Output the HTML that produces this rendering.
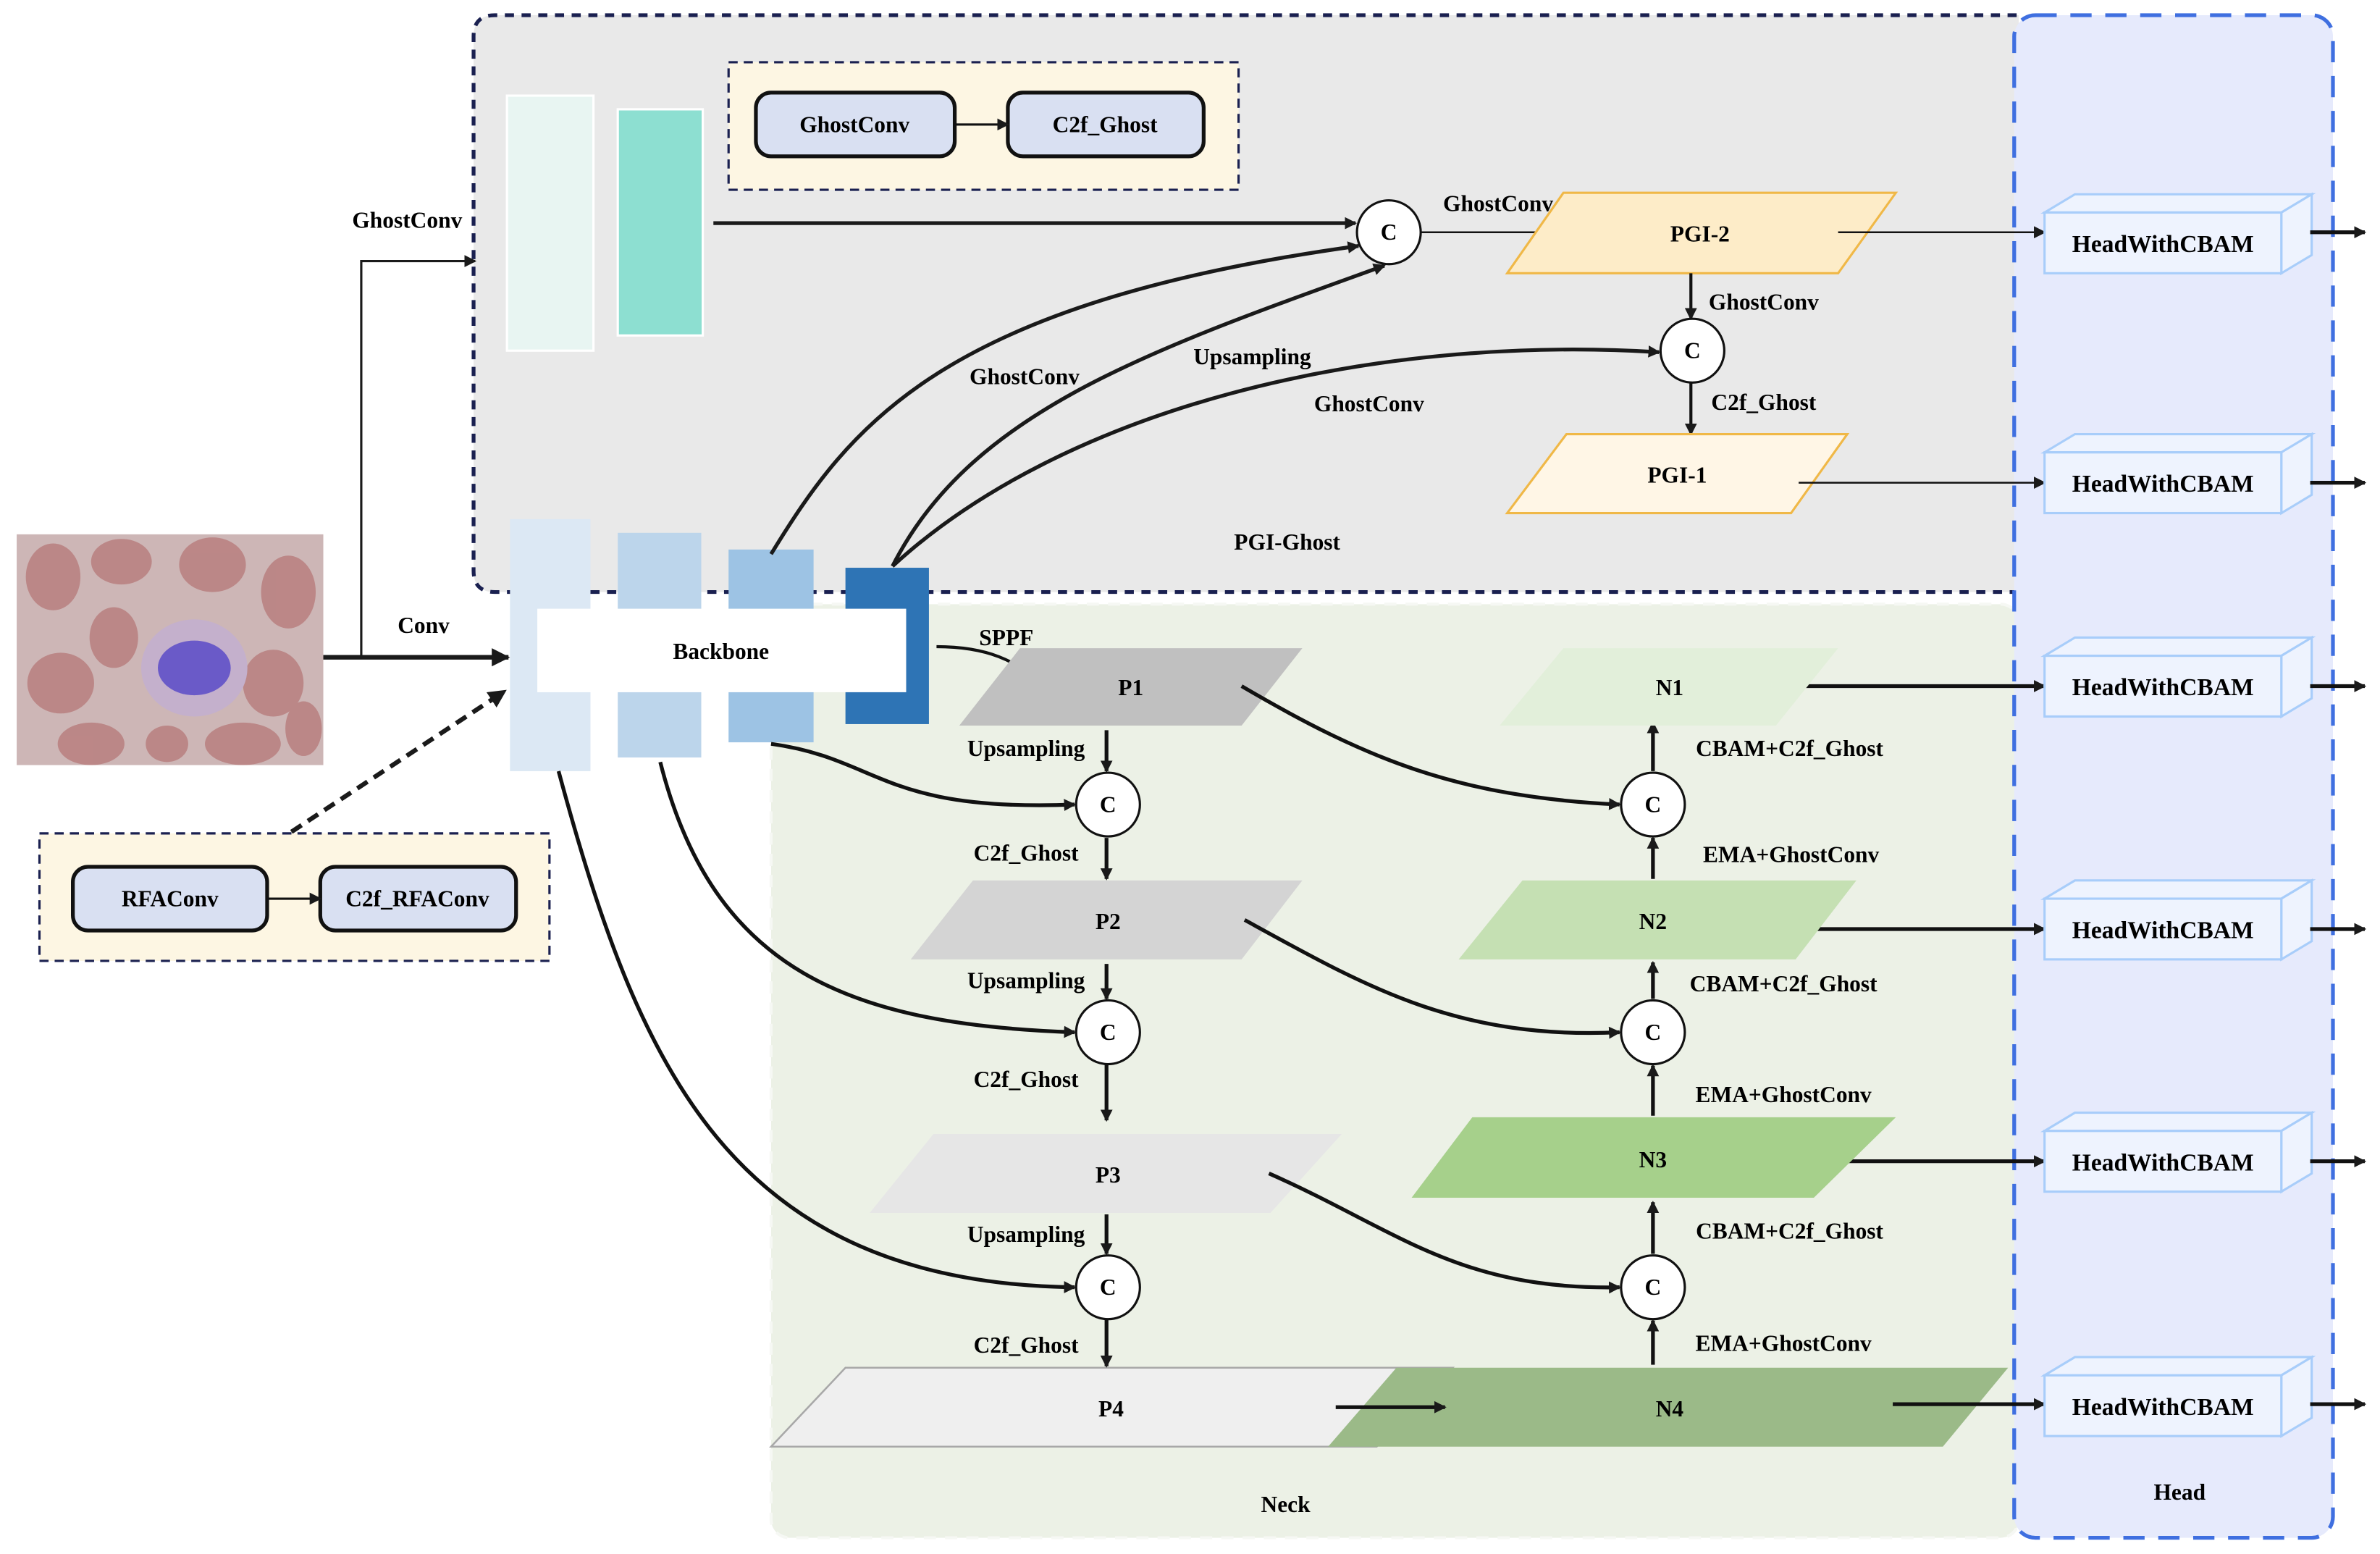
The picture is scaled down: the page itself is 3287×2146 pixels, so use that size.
<!DOCTYPE html>
<html><head><meta charset="utf-8"><style>html,body{margin:0;padding:0;background:#fff}svg{display:block}</style></head>
<body>
<svg width="3287" height="2146" viewBox="0 0 1568 1023.7" preserveAspectRatio="none" xmlns="http://www.w3.org/2000/svg" font-family="Liberation Serif, serif" font-weight="bold" font-size="15">
<defs>
<marker id="a" markerWidth="8" markerHeight="8" refX="7" refY="4" orient="auto" markerUnits="userSpaceOnUse"><path d="M0,0 L8,4 L0,8 z" fill="#1a1a1a"/></marker>
<marker id="b" markerWidth="12" markerHeight="12" refX="11" refY="6" orient="auto" markerUnits="userSpaceOnUse"><path d="M0,0 L12,6 L0,12 z" fill="#1a1a1a"/></marker>
</defs>
<rect x="508" y="398" width="822" height="615" rx="12" fill="#ecf1e6" stroke="#f6f8f4" stroke-width="2" stroke-dasharray="8 6"/>
<path d="M1330,390 L326,390 Q312,390 312,376 L312,24 Q312,10 326,10 L1330,10" fill="#e9e9e9" stroke="#1a2050" stroke-width="2.5" stroke-dasharray="6 5"/>
<rect x="1327" y="10" width="210" height="1003" rx="14" fill="#e6eafc" stroke="#3f6fe0" stroke-width="2.5" stroke-dasharray="14 9"/>
<rect x="11" y="352" width="202" height="152" fill="#cdb6b6"/>
<g fill="#b97f7f" opacity="0.85">
<ellipse cx="35" cy="380" rx="18" ry="22"/><ellipse cx="80" cy="370" rx="20" ry="15"/><ellipse cx="140" cy="372" rx="22" ry="18"/><ellipse cx="190" cy="390" rx="18" ry="24"/>
<ellipse cx="40" cy="450" rx="22" ry="20"/><ellipse cx="75" cy="420" rx="16" ry="20"/><ellipse cx="180" cy="450" rx="20" ry="22"/><ellipse cx="60" cy="490" rx="22" ry="14"/>
<ellipse cx="160" cy="490" rx="25" ry="14"/><ellipse cx="110" cy="490" rx="14" ry="12"/><ellipse cx="200" cy="480" rx="12" ry="18"/>
</g>
<ellipse cx="128" cy="440" rx="35" ry="32" fill="#c4b0cc"/>
<ellipse cx="128" cy="440" rx="24" ry="18" fill="#6a5ac8"/>
<line x1="213" y1="433" x2="335" y2="433" stroke="#1a1a1a" stroke-width="3" marker-end="url(#b)"/>
<polyline points="238,433 238,172 313,172" fill="none" stroke="#1a1a1a" stroke-width="1.5" marker-end="url(#a)"/>
<text x="232" y="150">GhostConv</text>
<text x="262" y="417">Conv</text>
<line x1="192" y1="548" x2="333" y2="455" stroke="#1a1a1a" stroke-width="3" stroke-dasharray="8 5" marker-end="url(#b)"/>
<rect x="26" y="549" width="336" height="84" fill="#fdf6e3" stroke="#1a2050" stroke-width="1.5" stroke-dasharray="6 4"/>
<rect x="48" y="571" width="128" height="42" rx="10" fill="#d9e0f2" stroke="#111" stroke-width="2.5"/>
<rect x="211" y="571" width="129" height="42" rx="10" fill="#d9e0f2" stroke="#111" stroke-width="2.5"/>
<line x1="176" y1="592" x2="211" y2="592" stroke="#111" stroke-width="1.5" marker-end="url(#a)"/>
<text x="112" y="597" text-anchor="middle">RFAConv</text>
<text x="275" y="597" text-anchor="middle">C2f_RFAConv</text>
<rect x="480" y="41" width="336" height="84" fill="#fdf6e3" stroke="#1a2050" stroke-width="1.5" stroke-dasharray="6 4"/>
<rect x="498" y="61" width="131" height="42" rx="10" fill="#d9e0f2" stroke="#111" stroke-width="2.5"/>
<rect x="664" y="61" width="129" height="42" rx="10" fill="#d9e0f2" stroke="#111" stroke-width="2.5"/>
<line x1="629" y1="82" x2="664" y2="82" stroke="#111" stroke-width="1.5" marker-end="url(#a)"/>
<text x="563" y="87" text-anchor="middle">GhostConv</text>
<text x="728" y="87" text-anchor="middle">C2f_Ghost</text>
<rect x="334" y="63" width="57" height="168" fill="#e8f5f2" stroke="#fff" stroke-width="1.5"/>
<rect x="407" y="72" width="56" height="149" fill="#8ddfd1" stroke="#fff" stroke-width="1.5"/>
<rect x="336" y="342" width="53" height="166" fill="#dce8f4"/>
<rect x="407" y="351" width="55" height="148" fill="#bcd5eb"/>
<rect x="480" y="362" width="56" height="127" fill="#9dc3e4"/>
<rect x="557" y="374" width="55" height="103" fill="#2e74b5"/>
<rect x="354" y="401" width="243" height="55" fill="#fff"/>
<text x="475" y="434" text-anchor="middle">Backbone</text>
<g fill="none" stroke="#1a1a1a" stroke-width="2.5">
<line x1="470" y1="147" x2="893" y2="147" marker-end="url(#a)"/>
<path d="M508,365 C560,280 620,200 895,162" marker-end="url(#a)"/>
<path d="M588,373 C640,270 760,230 912,175" marker-end="url(#a)"/>
<path d="M588,373 C700,270 900,220 1093,232" marker-end="url(#a)"/>
</g>
<circle cx="915" cy="153" r="21" fill="#fff" stroke="#111" stroke-width="1.5"/><text x="915" y="158" text-anchor="middle">C</text>
<text x="675" y="253" text-anchor="middle">GhostConv</text>
<text x="825" y="240" text-anchor="middle">Upsampling</text>
<text x="902" y="271" text-anchor="middle">GhostConv</text>
<line x1="936" y1="153" x2="1030" y2="153" stroke="#111" stroke-width="1.2" marker-end="url(#a)"/>
<text x="987" y="139" text-anchor="middle">GhostConv</text>
<polygon points="1030,127 1249,127 1211,180 993,180" fill="#fdecc8" stroke="#f0b847" stroke-width="1.5"/>
<text x="1120" y="159" text-anchor="middle">PGI-2</text>
<line x1="1211" y1="153" x2="1347" y2="153" stroke="#111" stroke-width="1.2" marker-end="url(#a)"/>
<line x1="1114" y1="180" x2="1114" y2="210" stroke="#111" stroke-width="2" marker-end="url(#a)"/>
<text x="1162" y="204" text-anchor="middle">GhostConv</text>
<circle cx="1115" cy="231" r="21" fill="#fff" stroke="#111" stroke-width="1.5"/><text x="1115" y="236" text-anchor="middle">C</text>
<line x1="1114" y1="252" x2="1114" y2="286" stroke="#111" stroke-width="2" marker-end="url(#a)"/>
<text x="1162" y="270" text-anchor="middle">C2f_Ghost</text>
<polygon points="1032,286 1217,286 1180,338 993,338" fill="#fff6e6" stroke="#f0b847" stroke-width="1.5"/>
<text x="1105" y="318" text-anchor="middle">PGI-1</text>
<line x1="1185" y1="318" x2="1347" y2="318" stroke="#111" stroke-width="1.2" marker-end="url(#a)"/>
<text x="848" y="362" text-anchor="middle">PGI-Ghost</text>
<text x="663" y="425" text-anchor="middle">SPPF</text>
<path d="M617,426 C650,426 670,435 688,452" fill="none" stroke="#111" stroke-width="2" marker-end="url(#a)"/>
<polygon points="672,427 858,427 818,478 632,478" fill="#c0c0c0"/>
<text x="745" y="458" text-anchor="middle">P1</text>
<polygon points="641,580 858,580 818,632 600,632" fill="#d4d4d4"/>
<text x="730" y="612" text-anchor="middle">P2</text>
<polygon points="615,747 884,747 837,799 573,799" fill="#e6e6e6"/>
<text x="730" y="779" text-anchor="middle">P3</text>
<polygon points="557,901 957,901 907,953 508,953" fill="#efefef" stroke="#a8a8a8" stroke-width="1.2"/>
<text x="732" y="933" text-anchor="middle">P4</text>
<polygon points="920,901 1323,901 1280,953 875,953" fill="#9bba88"/>
<text x="1100" y="933" text-anchor="middle">N4</text>
<g fill="none" stroke="#111" stroke-width="2.5">
<line x1="729" y1="481" x2="729" y2="508" marker-end="url(#a)"/>
<line x1="729" y1="552" x2="729" y2="579" marker-end="url(#a)"/>
<line x1="729" y1="635" x2="729" y2="658" marker-end="url(#a)"/>
<line x1="729" y1="701" x2="729" y2="738" marker-end="url(#a)"/>
<line x1="729" y1="800" x2="729" y2="826" marker-end="url(#a)"/>
<line x1="729" y1="869" x2="729" y2="900" marker-end="url(#a)"/>
<path d="M508,490 C580,500 580,535 708,530" marker-end="url(#a)"/>
<path d="M435,502 C470,640 560,675 708,680" marker-end="url(#a)"/>
<path d="M368,508 C420,700 480,845 708,848" marker-end="url(#a)"/>
<line x1="880" y1="927" x2="952" y2="927" marker-end="url(#a)"/>
<path d="M818,452 C900,500 960,525 1067,530" marker-end="url(#a)"/>
<path d="M820,606 C900,650 960,685 1067,680" marker-end="url(#a)"/>
<path d="M836,773 C920,810 960,850 1067,848" marker-end="url(#a)"/>
<line x1="1089" y1="508" x2="1089" y2="476" marker-end="url(#a)"/>
<line x1="1089" y1="579" x2="1089" y2="552" marker-end="url(#a)"/>
<line x1="1089" y1="658" x2="1089" y2="634" marker-end="url(#a)"/>
<line x1="1089" y1="735" x2="1089" y2="702" marker-end="url(#a)"/>
<line x1="1089" y1="826" x2="1089" y2="792" marker-end="url(#a)"/>
<line x1="1089" y1="899" x2="1089" y2="870" marker-end="url(#a)"/>
<line x1="1170" y1="452" x2="1347" y2="452" marker-end="url(#a)"/>
<line x1="1183" y1="612" x2="1347" y2="612" marker-end="url(#a)"/>
<line x1="1195" y1="765" x2="1347" y2="765" marker-end="url(#a)"/>
<line x1="1247" y1="925" x2="1347" y2="925" marker-end="url(#a)"/>
</g>
<g fill="#fff" stroke="#111" stroke-width="1.5">
<circle cx="730" cy="530" r="21"/><circle cx="730" cy="680" r="21"/><circle cx="730" cy="848" r="21"/>
<circle cx="1089" cy="530" r="21"/><circle cx="1089" cy="680" r="21"/><circle cx="1089" cy="848" r="21"/>
</g>
<g text-anchor="middle">
<text x="730" y="535">C</text><text x="730" y="685">C</text><text x="730" y="853">C</text>
<text x="1089" y="535">C</text><text x="1089" y="685">C</text><text x="1089" y="853">C</text>
<text x="676" y="498">Upsampling</text><text x="676" y="567">C2f_Ghost</text>
<text x="676" y="651">Upsampling</text><text x="676" y="716">C2f_Ghost</text>
<text x="676" y="818">Upsampling</text><text x="676" y="891">C2f_Ghost</text>
</g>
<polygon points="1030,427 1211,427 1170,478 988,478" fill="#e2efda"/>
<text x="1100" y="458" text-anchor="middle">N1</text>
<polygon points="1003,580 1223,580 1183,632 961,632" fill="#c5e0b3"/>
<text x="1089" y="612" text-anchor="middle">N2</text>
<polygon points="970,736 1249,736 1195,789 930,789" fill="#a6d08b"/>
<text x="1089" y="769" text-anchor="middle">N3</text>
<g text-anchor="middle">
<text x="1179" y="498">CBAM+C2f_Ghost</text><text x="1180" y="568">EMA+GhostConv</text>
<text x="1175" y="653">CBAM+C2f_Ghost</text><text x="1175" y="726">EMA+GhostConv</text>
<text x="1179" y="816">CBAM+C2f_Ghost</text><text x="1175" y="890">EMA+GhostConv</text>
<text x="847" y="996">Neck</text><text x="1436" y="988">Head</text>
</g>
<g stroke="#a8cdfa" stroke-width="1.5" fill="#eef3fe">
<g><polygon points="1347,140 1367,128 1523,128 1503,140"/><polygon points="1503,140 1523,128 1523,168 1503,180"/><rect x="1347" y="140" width="156" height="40"/></g>
<g transform="translate(0,158)"><polygon points="1347,140 1367,128 1523,128 1503,140"/><polygon points="1503,140 1523,128 1523,168 1503,180"/><rect x="1347" y="140" width="156" height="40"/></g>
<g transform="translate(0,292)"><polygon points="1347,140 1367,128 1523,128 1503,140"/><polygon points="1503,140 1523,128 1523,168 1503,180"/><rect x="1347" y="140" width="156" height="40"/></g>
<g transform="translate(0,452)"><polygon points="1347,140 1367,128 1523,128 1503,140"/><polygon points="1503,140 1523,128 1523,168 1503,180"/><rect x="1347" y="140" width="156" height="40"/></g>
<g transform="translate(0,605)"><polygon points="1347,140 1367,128 1523,128 1503,140"/><polygon points="1503,140 1523,128 1523,168 1503,180"/><rect x="1347" y="140" width="156" height="40"/></g>
<g transform="translate(0,766)"><polygon points="1347,140 1367,128 1523,128 1503,140"/><polygon points="1503,140 1523,128 1523,168 1503,180"/><rect x="1347" y="140" width="156" height="40"/></g>
</g>
<g text-anchor="middle" font-size="16">
<text x="1425" y="166">HeadWithCBAM</text><text x="1425" y="324">HeadWithCBAM</text><text x="1425" y="458">HeadWithCBAM</text>
<text x="1425" y="618">HeadWithCBAM</text><text x="1425" y="771">HeadWithCBAM</text><text x="1425" y="932">HeadWithCBAM</text>
</g>
<g stroke="#111" stroke-width="2.5" marker-end="url(#a)">
<line x1="1522" y1="153" x2="1558" y2="153"/><line x1="1522" y1="318" x2="1558" y2="318"/><line x1="1522" y1="452" x2="1558" y2="452"/>
<line x1="1522" y1="612" x2="1558" y2="612"/><line x1="1522" y1="765" x2="1558" y2="765"/><line x1="1522" y1="925" x2="1558" y2="925"/>
</g>
</svg>
</body></html>
